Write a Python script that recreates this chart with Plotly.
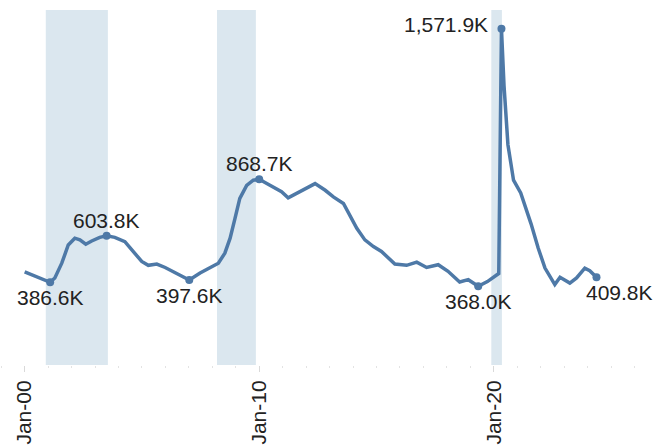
import plotly.graph_objects as go

# Series: dates and values (thousands)
dates = [
    "2000-01-01", "2000-05-15", "2000-10-15", "2001-02-01", "2001-04-15",
    "2001-08-01", "2001-11-10", "2002-02-20", "2002-05-10", "2002-08-10",
    "2002-11-10", "2003-03-15", "2003-07-01", "2003-11-05", "2004-04-10",
    "2004-08-20", "2004-12-28", "2005-04-10", "2005-08-20", "2005-12-28",
    "2006-06-25", "2007-01-08", "2007-06-25", "2007-11-25", "2008-04-05",
    "2008-07-15", "2008-10-05", "2008-12-20", "2009-03-05", "2009-06-20",
    "2009-10-01", "2010-01-01", "2010-04-25", "2010-09-01", "2010-12-15",
    "2011-03-28", "2011-09-01", "2012-01-10", "2012-05-20", "2012-10-25",
    "2013-03-01", "2013-08-05", "2013-11-15", "2014-03-01", "2014-07-05",
    "2014-11-15", "2015-03-20", "2015-07-05", "2015-10-15", "2016-04-15",
    "2016-09-20", "2017-02-20", "2017-08-20", "2018-01-20", "2018-07-20",
    "2018-12-01", "2019-05-05", "2019-09-25", "2020-02-25", "2020-03-20",
    "2020-05-01", "2020-06-10", "2020-08-10", "2020-11-05", "2021-02-25",
    "2021-05-30", "2021-08-05", "2021-11-25", "2022-03-10", "2022-08-10",
    "2022-10-30", "2023-04-01", "2023-07-15", "2023-11-20", "2024-02-05",
    "2024-05-20",
]
claims = [
    435, 419, 399, 386.6, 407,
    476, 561, 593, 585, 565,
    580, 597, 603.8, 597, 577,
    531, 484, 466, 472, 456,
    430, 397.6, 430, 456, 476,
    523, 593, 686, 779, 840,
    864, 868.7, 848, 828, 810,
    782, 806, 828, 848, 817,
    786, 755, 701, 639, 585,
    554, 531, 500, 472, 466,
    481, 456, 469, 438, 388,
    399, 368.0, 390, 421, 428,
    1571.9, 1305, 1030, 864, 805,
    725, 660, 546, 453, 376,
    410, 383, 407, 453, 441,
    409.8,
]

# Labelled points: index into the series, label placement
label_idx = [3, 12, 21, 31, 56, 60, 75]
label_pos = ["below", "above", "below", "above", "below", "left", "below-right"]

# Shaded periods
shade_start = ["2000-11-25", "2008-03-15", "2019-11-25"]
shade_end = ["2003-07-20", "2009-11-10", "2020-05-08"]

# Axis ticks
tick_vals = ["2000-01-01", "2010-01-01", "2020-01-01"]
tick_text = ["Jan-00", "Jan-10", "Jan-20"]

LINE = "#4e79a7"
TEXT = "#222222"
FONT = "Liberation Sans, Arial, sans-serif"

fig = go.Figure()

fig.add_trace(go.Scatter(
    x=dates, y=claims, mode="lines",
    line=dict(color=LINE, width=3.5),
    hoverinfo="skip", showlegend=False,
))

fig.add_trace(go.Scatter(
    x=[dates[i] for i in label_idx], y=[claims[i] for i in label_idx],
    mode="markers", marker=dict(color=LINE, size=8),
    hoverinfo="skip", showlegend=False,
))

for s, e in zip(shade_start, shade_end):
    fig.add_shape(type="rect", xref="x", yref="paper", x0=s, x1=e, y0=0, y1=1,
                  fillcolor="#dbe7ef", line=dict(width=0), layer="below")

for i, pos in zip(label_idx, label_pos):
    v = claims[i]
    txt = f"{v:,.1f}K"
    kw = dict(x=dates[i], y=v, text=txt, showarrow=False,
              font=dict(family=FONT, size=21, color=TEXT))
    if pos == "below":
        kw.update(xanchor="center", yanchor="top", yshift=-2)
    elif pos == "above":
        kw.update(xanchor="center", yanchor="bottom", yshift=2)
    elif pos == "left":
        kw.update(xanchor="right", yanchor="middle", xshift=-11, yshift=4)
    else:
        kw.update(xanchor="center", yanchor="top", xshift=23, yshift=-2)
    fig.add_annotation(**kw)

fig.update_layout(
    width=668, height=445,
    margin=dict(l=0, r=24, t=10, b=78),
    plot_bgcolor="white", paper_bgcolor="white",
    font=dict(family=FONT, size=21, color=TEXT),
    xaxis=dict(
        type="date",
        range=["1998-12-13", "2026-05-30"],
        tickvals=tick_vals, ticktext=tick_text,
        tickangle=-90,
        ticks="outside", ticklen=6, tickcolor="#d9d9d9", tickwidth=1,
        minor=dict(dtick="M12", tick0="2000-01-01", ticks="outside",
                   ticklen=2, tickcolor="#e3e3e3", showgrid=False),
        showgrid=False, zeroline=False, showline=False,
        tickfont=dict(family=FONT, size=21, color=TEXT),
    ),
    yaxis=dict(range=[0, 1660], visible=False, showgrid=False, zeroline=False),
)

fig.write_html("out.html")
